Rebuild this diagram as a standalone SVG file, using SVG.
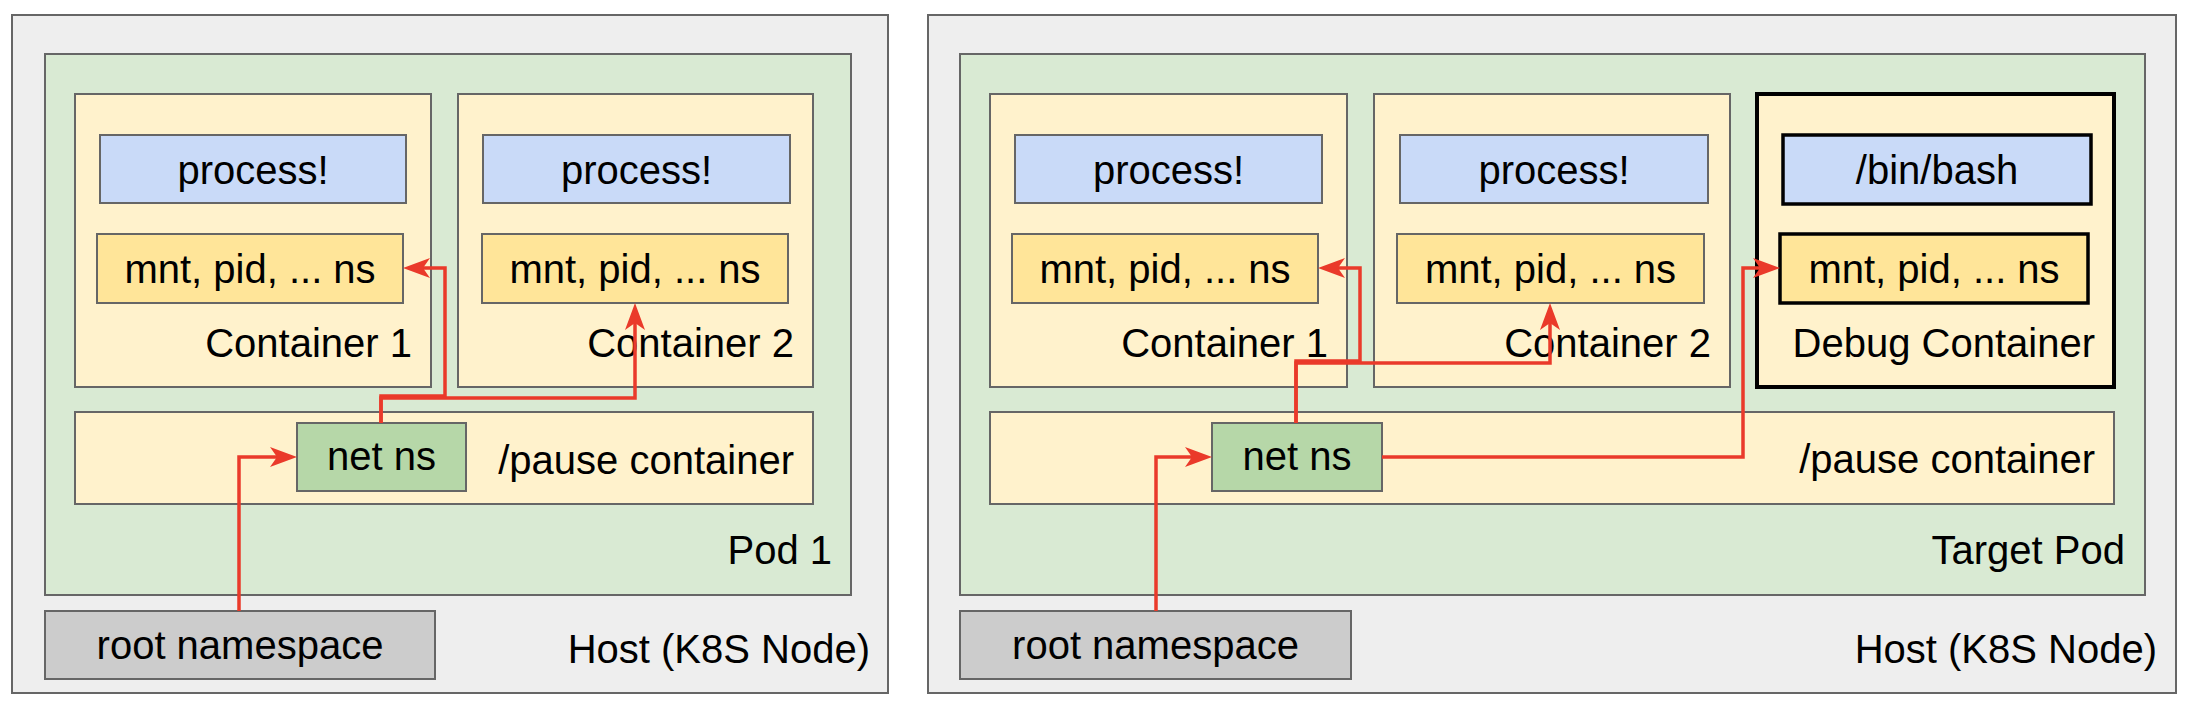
<svg xmlns="http://www.w3.org/2000/svg" width="2190" height="712" viewBox="0 0 2190 712">
<style>
text{font-family:"Liberation Sans",Arial,sans-serif;font-size:40px;fill:#000}
.c{text-anchor:middle}
.e{text-anchor:end}
.host{fill:#eeeeee;stroke:#666;stroke-width:2}
.pod{fill:#d9ead3;stroke:#666;stroke-width:2}
.ctr{fill:#fff2cc;stroke:#666;stroke-width:2}
.proc{fill:#c9daf8;stroke:#666;stroke-width:2}
.mnt{fill:#ffe599;stroke:#666;stroke-width:2}
.net{fill:#b6d7a8;stroke:#666;stroke-width:2}
.root{fill:#cccccc;stroke:#666;stroke-width:2}
.dbg{stroke:#000;stroke-width:4}
.dbgi{stroke:#000;stroke-width:3.5}
.conn{fill:none;stroke:#ea3a2a;stroke-width:3.5;stroke-linejoin:miter;marker-end:url(#ah)}
</style>
<defs>
<marker id="ah" markerUnits="userSpaceOnUse" markerWidth="28" markerHeight="22" viewBox="0 0 28 22" refX="12" refY="11" orient="auto">
<path d="M0,1 L27,11 L0,21 L7,11 Z" fill="#ea3a2a"/>
</marker>
</defs>

<!-- Left panel -->
<g id="host1">
<rect class="host" x="12" y="15" width="876" height="678"/>
<text class="e" x="870" y="663">Host (K8S Node)</text>
</g>
<g id="pod1">
<rect class="pod" x="45" y="54" width="806" height="541"/>
<text class="e" x="832" y="564">Pod 1</text>
</g>
<g id="l-container1">
<rect class="ctr" x="75" y="94" width="356" height="293"/>
<text class="e" x="412" y="357">Container 1</text>
</g>
<g id="l-process1">
<rect class="proc" x="100" y="135" width="306" height="68"/>
<text class="c" x="253" y="184">process!</text>
</g>
<g id="l-mnt1">
<rect class="mnt" x="97" y="234" width="306" height="69"/>
<text class="c" x="250" y="283">mnt, pid, ... ns</text>
</g>
<g id="l-container2">
<rect class="ctr" x="458" y="94" width="355" height="293"/>
<text class="e" x="794" y="357">Container 2</text>
</g>
<g id="l-process2">
<rect class="proc" x="483" y="135" width="307" height="68"/>
<text class="c" x="636.5" y="184">process!</text>
</g>
<g id="l-mnt2">
<rect class="mnt" x="482" y="234" width="306" height="69"/>
<text class="c" x="635" y="283">mnt, pid, ... ns</text>
</g>
<g id="l-pause">
<rect class="ctr" x="75" y="412" width="738" height="92"/>
<text class="e" x="794" y="474">/pause container</text>
</g>
<g id="l-netns">
<rect class="net" x="297" y="423" width="169" height="68"/>
<text class="c" x="381.5" y="470">net ns</text>
</g>
<g id="l-root">
<rect class="root" x="45" y="611" width="390" height="68"/>
<text class="c" x="240" y="659">root namespace</text>
</g>

<!-- Right panel -->
<g id="host2">
<rect class="host" x="928" y="15" width="1248" height="678"/>
<text class="e" x="2157" y="663">Host (K8S Node)</text>
</g>
<g id="pod2">
<rect class="pod" x="960" y="54" width="1185" height="541"/>
<text class="e" x="2125" y="564">Target Pod</text>
</g>
<g id="r-container1">
<rect class="ctr" x="990" y="94" width="357" height="293"/>
<text class="e" x="1328" y="357">Container 1</text>
</g>
<g id="r-process1">
<rect class="proc" x="1015" y="135" width="307" height="68"/>
<text class="c" x="1168.5" y="184">process!</text>
</g>
<g id="r-mnt1">
<rect class="mnt" x="1012" y="234" width="306" height="69"/>
<text class="c" x="1165" y="283">mnt, pid, ... ns</text>
</g>
<g id="r-container2">
<rect class="ctr" x="1374" y="94" width="356" height="293"/>
<text class="e" x="1711" y="357">Container 2</text>
</g>
<g id="r-process2">
<rect class="proc" x="1400" y="135" width="308" height="68"/>
<text class="c" x="1554" y="184">process!</text>
</g>
<g id="r-mnt2">
<rect class="mnt" x="1397" y="234" width="307" height="69"/>
<text class="c" x="1550.5" y="283">mnt, pid, ... ns</text>
</g>
<g id="r-debug">
<rect class="ctr dbg" x="1757" y="94" width="357" height="293"/>
<text class="e" x="2095" y="357">Debug Container</text>
</g>
<g id="r-bash">
<rect class="proc dbgi" x="1783" y="135" width="308" height="69"/>
<text class="c" x="1937" y="184">/bin/bash</text>
</g>
<g id="r-dmnt">
<rect class="mnt dbgi" x="1780" y="234" width="308" height="69"/>
<text class="c" x="1934" y="283">mnt, pid, ... ns</text>
</g>
<g id="r-pause">
<rect class="ctr" x="990" y="412" width="1124" height="92"/>
<text class="e" x="2095" y="473">/pause container</text>
</g>
<g id="r-netns">
<rect class="net" x="1212" y="423" width="170" height="68"/>
<text class="c" x="1297" y="470">net ns</text>
</g>
<g id="r-root">
<rect class="root" x="960" y="611" width="391" height="68"/>
<text class="c" x="1155.5" y="659">root namespace</text>
</g>

<g id="connectors">
<path class="conn" d="M239,611 V457 H282"/>
<path class="conn" d="M381,423 V396 H445 V268 H418"/>
<path class="conn" d="M381,423 V398 H635 V318"/>
<path class="conn" d="M1156,611 V457 H1197"/>
<path class="conn" d="M1296,423 V361 H1360 V268 H1333"/>
<path class="conn" d="M1296,423 V363 H1550 V318"/>
<path class="conn" d="M1382,457 H1743 V268 H1765"/>
</g>
</svg>
